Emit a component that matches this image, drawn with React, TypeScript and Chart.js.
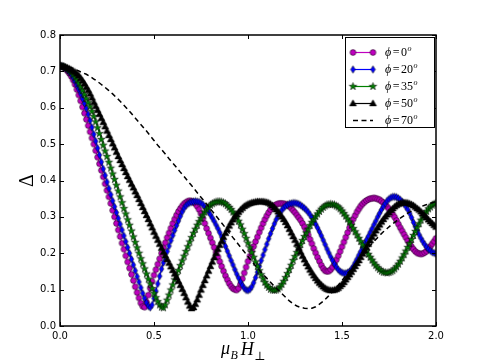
import React, { useEffect, useRef } from "react";
import { Chart, registerables } from "chart.js";

Chart.register(...registerables);

// ---- data ----
// sample positions of the marker curves (step 0.01)
const X_DENSE = [
  0.0, 0.01, 0.02, 0.03, 0.04, 0.05, 0.06, 0.07, 0.08, 0.09,
  0.1, 0.11, 0.12, 0.13, 0.14, 0.15, 0.16, 0.17, 0.18, 0.19,
  0.2, 0.21, 0.22, 0.23, 0.24, 0.25, 0.26, 0.27, 0.28, 0.29,
  0.3, 0.31, 0.32, 0.33, 0.34, 0.35, 0.36, 0.37, 0.38, 0.39,
  0.4, 0.41, 0.42, 0.43, 0.44, 0.45, 0.46, 0.47, 0.48, 0.49,
  0.5, 0.51, 0.52, 0.53, 0.54, 0.55, 0.56, 0.57, 0.58, 0.59,
  0.6, 0.61, 0.62, 0.63, 0.64, 0.65, 0.66, 0.67, 0.68, 0.69,
  0.7, 0.71, 0.72, 0.73, 0.74, 0.75, 0.76, 0.77, 0.78, 0.79,
  0.8, 0.81, 0.82, 0.83, 0.84, 0.85, 0.86, 0.87, 0.88, 0.89,
  0.9, 0.91, 0.92, 0.93, 0.94, 0.95, 0.96, 0.97, 0.98, 0.99,
  1.0, 1.01, 1.02, 1.03, 1.04, 1.05, 1.06, 1.07, 1.08, 1.09,
  1.1, 1.11, 1.12, 1.13, 1.14, 1.15, 1.16, 1.17, 1.18, 1.19,
  1.2, 1.21, 1.22, 1.23, 1.24, 1.25, 1.26, 1.27, 1.28, 1.29,
  1.3, 1.31, 1.32, 1.33, 1.34, 1.35, 1.36, 1.37, 1.38, 1.39,
  1.4, 1.41, 1.42, 1.43, 1.44, 1.45, 1.46, 1.47, 1.48, 1.49,
  1.5, 1.51, 1.52, 1.53, 1.54, 1.55, 1.56, 1.57, 1.58, 1.59,
  1.6, 1.61, 1.62, 1.63, 1.64, 1.65, 1.66, 1.67, 1.68, 1.69,
  1.7, 1.71, 1.72, 1.73, 1.74, 1.75, 1.76, 1.77, 1.78, 1.79,
  1.8, 1.81, 1.82, 1.83, 1.84, 1.85, 1.86, 1.87, 1.88, 1.89,
  1.9, 1.91, 1.92, 1.93, 1.94, 1.95, 1.96, 1.97, 1.98, 1.99,
  2.0,
];

// sample positions of the dashed curve (step 0.02)
const X_COARSE = [
  0.0, 0.02, 0.04, 0.06, 0.08, 0.1, 0.12, 0.14, 0.16, 0.18,
  0.2, 0.22, 0.24, 0.26, 0.28, 0.3, 0.32, 0.34, 0.36, 0.38,
  0.4, 0.42, 0.44, 0.46, 0.48, 0.5, 0.52, 0.54, 0.56, 0.58,
  0.6, 0.62, 0.64, 0.66, 0.68, 0.7, 0.72, 0.74, 0.76, 0.78,
  0.8, 0.82, 0.84, 0.86, 0.88, 0.9, 0.92, 0.94, 0.96, 0.98,
  1.0, 1.02, 1.04, 1.06, 1.08, 1.1, 1.12, 1.14, 1.16, 1.18,
  1.2, 1.22, 1.24, 1.26, 1.28, 1.3, 1.32, 1.34, 1.36, 1.38,
  1.4, 1.42, 1.44, 1.46, 1.48, 1.5, 1.52, 1.54, 1.56, 1.58,
  1.6, 1.62, 1.64, 1.66, 1.68, 1.7, 1.72, 1.74, 1.76, 1.78,
  1.8, 1.82, 1.84, 1.86, 1.88, 1.9, 1.92, 1.94, 1.96, 1.98,
  2.0,
];

const PHI_0 = [
  0.715, 0.714, 0.711, 0.707, 0.701, 0.694, 0.686, 0.676, 0.664, 0.65,
  0.635, 0.619, 0.602, 0.585, 0.568, 0.551, 0.534, 0.517, 0.5, 0.482,
  0.464, 0.446, 0.428, 0.41, 0.391, 0.373, 0.355, 0.337, 0.318, 0.3,
  0.282, 0.264, 0.246, 0.228, 0.211, 0.193, 0.176, 0.159, 0.142, 0.125,
  0.108, 0.092, 0.077, 0.063, 0.054, 0.052, 0.066, 0.085, 0.104, 0.122,
  0.14, 0.155, 0.17, 0.185, 0.2, 0.215, 0.229, 0.243, 0.256, 0.269,
  0.282, 0.294, 0.305, 0.315, 0.323, 0.33, 0.336, 0.34, 0.343, 0.344,
  0.343, 0.34, 0.336, 0.329, 0.32, 0.309, 0.296, 0.282, 0.268, 0.255,
  0.242, 0.229, 0.216, 0.203, 0.19, 0.177, 0.164, 0.151, 0.138, 0.127,
  0.117, 0.109, 0.103, 0.1, 0.099, 0.104, 0.115, 0.13, 0.146, 0.162,
  0.178, 0.192, 0.206, 0.219, 0.232, 0.245, 0.258, 0.27, 0.282, 0.293,
  0.303, 0.312, 0.32, 0.326, 0.331, 0.334, 0.336, 0.337, 0.337, 0.336,
  0.335, 0.332, 0.329, 0.324, 0.318, 0.312, 0.305, 0.298, 0.291, 0.282,
  0.272, 0.261, 0.25, 0.238, 0.226, 0.213, 0.201, 0.189, 0.178, 0.167,
  0.158, 0.152, 0.15, 0.151, 0.155, 0.162, 0.171, 0.182, 0.193, 0.205,
  0.218, 0.231, 0.244, 0.257, 0.27, 0.282, 0.294, 0.304, 0.314, 0.322,
  0.33, 0.336, 0.341, 0.345, 0.348, 0.35, 0.351, 0.352, 0.351, 0.349,
  0.347, 0.343, 0.339, 0.334, 0.328, 0.322, 0.315, 0.307, 0.299, 0.29,
  0.28, 0.27, 0.261, 0.252, 0.243, 0.234, 0.226, 0.218, 0.211, 0.205,
  0.201, 0.199, 0.198, 0.199, 0.202, 0.206, 0.212, 0.219, 0.226, 0.233,
  0.241,
];

const PHI_20 = [
  0.715, 0.714, 0.712, 0.709, 0.704, 0.698, 0.691, 0.682, 0.672, 0.661,
  0.65, 0.638, 0.625, 0.612, 0.598, 0.582, 0.565, 0.546, 0.527, 0.508,
  0.489, 0.47, 0.451, 0.432, 0.414, 0.396, 0.378, 0.361, 0.344, 0.328,
  0.312, 0.296, 0.28, 0.264, 0.248, 0.232, 0.216, 0.2, 0.184, 0.168,
  0.152, 0.136, 0.121, 0.105, 0.09, 0.076, 0.064, 0.055, 0.051, 0.058,
  0.076, 0.096, 0.116, 0.137, 0.157, 0.174, 0.19, 0.205, 0.22, 0.235,
  0.249, 0.263, 0.276, 0.289, 0.302, 0.314, 0.324, 0.331, 0.336, 0.339,
  0.341, 0.342, 0.343, 0.342, 0.341, 0.338, 0.334, 0.328, 0.322, 0.314,
  0.306, 0.297, 0.288, 0.278, 0.268, 0.257, 0.245, 0.232, 0.219, 0.206,
  0.193, 0.18, 0.168, 0.155, 0.143, 0.132, 0.121, 0.112, 0.104, 0.099,
  0.098, 0.101, 0.108, 0.119, 0.133, 0.148, 0.164, 0.18, 0.195, 0.21,
  0.225, 0.24, 0.254, 0.268, 0.281, 0.293, 0.303, 0.312, 0.319, 0.325,
  0.33, 0.333, 0.336, 0.337, 0.338, 0.338, 0.337, 0.335, 0.332, 0.328,
  0.324, 0.319, 0.313, 0.306, 0.298, 0.289, 0.28, 0.27, 0.259, 0.248,
  0.236, 0.224, 0.212, 0.201, 0.19, 0.18, 0.17, 0.162, 0.155, 0.15,
  0.147, 0.145, 0.145, 0.147, 0.15, 0.156, 0.164, 0.174, 0.184, 0.195,
  0.205, 0.216, 0.226, 0.237, 0.247, 0.258, 0.268, 0.279, 0.289, 0.3,
  0.31, 0.32, 0.329, 0.337, 0.344, 0.349, 0.353, 0.355, 0.355, 0.354,
  0.351, 0.347, 0.342, 0.336, 0.328, 0.32, 0.31, 0.298, 0.285, 0.273,
  0.262, 0.251, 0.241, 0.232, 0.224, 0.217, 0.211, 0.207, 0.203, 0.201,
  0.199,
];

const PHI_35 = [
  0.715, 0.714, 0.713, 0.71, 0.707, 0.702, 0.697, 0.691, 0.684, 0.676,
  0.667, 0.657, 0.647, 0.636, 0.625, 0.614, 0.603, 0.59, 0.576, 0.561,
  0.545, 0.529, 0.513, 0.497, 0.481, 0.466, 0.45, 0.434, 0.418, 0.403,
  0.387, 0.371, 0.355, 0.339, 0.323, 0.308, 0.292, 0.277, 0.261, 0.245,
  0.23, 0.215, 0.2, 0.185, 0.171, 0.157, 0.143, 0.129, 0.116, 0.103,
  0.09, 0.078, 0.067, 0.058, 0.052, 0.05, 0.058, 0.071, 0.085, 0.099,
  0.113, 0.127, 0.14, 0.153, 0.166, 0.179, 0.192, 0.205, 0.218, 0.231,
  0.243, 0.255, 0.266, 0.277, 0.287, 0.296, 0.305, 0.313, 0.32, 0.326,
  0.332, 0.336, 0.339, 0.341, 0.342, 0.342, 0.341, 0.339, 0.336, 0.331,
  0.326, 0.32, 0.313, 0.306, 0.298, 0.288, 0.278, 0.266, 0.254, 0.241,
  0.228, 0.215, 0.202, 0.189, 0.176, 0.164, 0.152, 0.141, 0.13, 0.12,
  0.112, 0.106, 0.101, 0.099, 0.098, 0.099, 0.102, 0.107, 0.114, 0.123,
  0.133, 0.144, 0.155, 0.167, 0.18, 0.191, 0.202, 0.213, 0.224, 0.235,
  0.246, 0.256, 0.266, 0.276, 0.285, 0.293, 0.301, 0.308, 0.315, 0.321,
  0.326, 0.33, 0.333, 0.334, 0.335, 0.334, 0.333, 0.33, 0.327, 0.322,
  0.316, 0.309, 0.302, 0.294, 0.286, 0.277, 0.268, 0.259, 0.25, 0.241,
  0.232, 0.223, 0.214, 0.205, 0.197, 0.189, 0.181, 0.173, 0.166, 0.16,
  0.155, 0.151, 0.148, 0.147, 0.146, 0.147, 0.149, 0.152, 0.157, 0.163,
  0.17, 0.178, 0.187, 0.196, 0.206, 0.216, 0.227, 0.238, 0.249, 0.26,
  0.271, 0.281, 0.291, 0.3, 0.308, 0.315, 0.322, 0.327, 0.332, 0.335,
  0.338,
];

const PHI_50 = [
  0.715, 0.714, 0.713, 0.711, 0.709, 0.707, 0.704, 0.701, 0.698, 0.693,
  0.688, 0.681, 0.674, 0.666, 0.657, 0.648, 0.638, 0.627, 0.615, 0.604,
  0.593, 0.582, 0.571, 0.56, 0.548, 0.536, 0.524, 0.513, 0.501, 0.49,
  0.478, 0.466, 0.455, 0.444, 0.433, 0.422, 0.411, 0.401, 0.39, 0.38,
  0.369, 0.359, 0.348, 0.337, 0.326, 0.315, 0.304, 0.293, 0.281, 0.27,
  0.258, 0.247, 0.236, 0.225, 0.214, 0.203, 0.193, 0.183, 0.173, 0.163,
  0.153, 0.143, 0.133, 0.123, 0.112, 0.101, 0.09, 0.078, 0.066, 0.055,
  0.048, 0.051, 0.06, 0.072, 0.085, 0.099, 0.112, 0.125, 0.138, 0.151,
  0.164, 0.176, 0.188, 0.2, 0.211, 0.222, 0.233, 0.244, 0.255, 0.265,
  0.275, 0.284, 0.292, 0.3, 0.307, 0.313, 0.319, 0.324, 0.329, 0.332,
  0.335, 0.337, 0.339, 0.34, 0.341, 0.342, 0.342, 0.342, 0.342, 0.341,
  0.34, 0.338, 0.335, 0.331, 0.326, 0.32, 0.314, 0.307, 0.3, 0.293,
  0.285, 0.276, 0.266, 0.256, 0.246, 0.236, 0.225, 0.214, 0.203, 0.192,
  0.182, 0.172, 0.163, 0.154, 0.146, 0.138, 0.131, 0.124, 0.118, 0.113,
  0.108, 0.104, 0.101, 0.099, 0.098, 0.098, 0.099, 0.101, 0.104, 0.109,
  0.114, 0.12, 0.127, 0.134, 0.141, 0.148, 0.156, 0.164, 0.172, 0.18,
  0.189, 0.198, 0.207, 0.216, 0.225, 0.235, 0.244, 0.253, 0.262, 0.27,
  0.278, 0.286, 0.293, 0.3, 0.306, 0.312, 0.318, 0.323, 0.328, 0.332,
  0.335, 0.337, 0.339, 0.339, 0.339, 0.338, 0.336, 0.334, 0.331, 0.327,
  0.323, 0.319, 0.314, 0.309, 0.303, 0.298, 0.292, 0.287, 0.282, 0.277,
  0.272,
];

const PHI_70 = [
  0.715, 0.715, 0.713, 0.71, 0.706, 0.701, 0.696, 0.692, 0.686, 0.679,
  0.672, 0.664, 0.656, 0.647, 0.638, 0.628, 0.618, 0.607, 0.596, 0.584,
  0.572, 0.56, 0.548, 0.536, 0.523, 0.51, 0.497, 0.485, 0.473, 0.46,
  0.448, 0.436, 0.423, 0.411, 0.398, 0.386, 0.373, 0.36, 0.348, 0.335,
  0.322, 0.309, 0.296, 0.283, 0.27, 0.256, 0.243, 0.23, 0.217, 0.204,
  0.191, 0.178, 0.166, 0.154, 0.142, 0.131, 0.12, 0.109, 0.099, 0.089,
  0.079, 0.069, 0.061, 0.055, 0.051, 0.049, 0.048, 0.049, 0.053, 0.06,
  0.068, 0.078, 0.089, 0.1, 0.112, 0.125, 0.138, 0.151, 0.164, 0.177,
  0.19, 0.203, 0.215, 0.227, 0.238, 0.249, 0.259, 0.268, 0.277, 0.285,
  0.293, 0.3, 0.307, 0.313, 0.318, 0.323, 0.328, 0.332, 0.336, 0.339,
  0.342,
];

const PHI_LABELS = ["0", "20", "35", "50", "70"];
const X_TICKS = [0.0, 0.5, 1.0, 1.5, 2.0];
const Y_TICKS = [0.0, 0.1, 0.2, 0.3, 0.4, 0.5, 0.6, 0.7, 0.8];

// ---- styles ----
const COLORS = ["#bf00bf", "#0000ff", "#008000", "#000000", "#000000"];
const MARKERS = ["circle", "thinDiamond", "star", "triangle", "none"];

function makeMarker(kind: string, color: string): HTMLCanvasElement {
  const c = document.createElement("canvas");
  c.width = 11;
  c.height = 11;
  const ctx = c.getContext("2d")!;
  ctx.translate(5.5, 5.5);
  ctx.fillStyle = color;
  ctx.strokeStyle = "#000";
  ctx.lineWidth = 0.5;
  ctx.beginPath();
  if (kind === "circle") {
    ctx.arc(0, 0, 2.9, 0, Math.PI * 2);
  } else if (kind === "thinDiamond") {
    ctx.moveTo(0, -3.8);
    ctx.lineTo(2.3, 0);
    ctx.lineTo(0, 3.8);
    ctx.lineTo(-2.3, 0);
    ctx.closePath();
  } else if (kind === "star") {
    for (let k = 0; k < 10; k++) {
      const r = k % 2 === 0 ? 4.0 : 1.6;
      const a = -Math.PI / 2 + (k * Math.PI) / 5;
      const px = r * Math.cos(a);
      const py = r * Math.sin(a);
      if (k === 0) ctx.moveTo(px, py);
      else ctx.lineTo(px, py);
    }
    ctx.closePath();
  } else if (kind === "triangle") {
    ctx.moveTo(0, -3.7);
    ctx.lineTo(3.5, 2.4);
    ctx.lineTo(-3.5, 2.4);
    ctx.closePath();
  }
  ctx.fill();
  ctx.stroke();
  return c;
}

function drawLegendText(ctx: CanvasRenderingContext2D, x: number, y: number, deg: string) {
  const serif = '"Liberation Serif", "DejaVu Serif", serif';
  ctx.fillStyle = "#000";
  ctx.textBaseline = "middle";
  ctx.textAlign = "left";
  let cx = x;
  ctx.font = `italic 12px ${serif}`;
  ctx.fillText("\u03D5", cx, y);
  cx += ctx.measureText("\u03D5").width + 1.5;
  ctx.font = `12px ${serif}`;
  ctx.fillText("=", cx, y);
  cx += ctx.measureText("=").width + 1.5;
  ctx.fillText(deg, cx, y);
  cx += ctx.measureText(deg).width + 0.5;
  ctx.font = `italic 8px ${serif}`;
  ctx.fillText("o", cx, y - 4);
}

export default function App() {
  const ref = useRef<HTMLCanvasElement>(null);

  useEffect(() => {
    document.body.style.margin = "0";
    const series = [PHI_0, PHI_20, PHI_35, PHI_50, PHI_70];
    const markerImgs = MARKERS.map((m, i) => (m === "none" ? null : makeMarker(m, COLORS[i])));

    const datasets = series.map((arr, i) => {
      const isDashed = i === 4;
      const xs = isDashed ? X_COARSE : X_DENSE;
      return {
        label: "phi=" + PHI_LABELS[i],
        data: xs.map((x, j) => ({ x, y: arr[j] })),
        borderColor: COLORS[i],
        backgroundColor: COLORS[i],
        borderWidth: isDashed ? 1.5 : 1,
        borderDash: isDashed ? [5, 3.5] : [],
        pointStyle: isDashed ? "circle" : (markerImgs[i] as any),
        pointRadius: isDashed ? 0 : 3,
        pointHoverRadius: isDashed ? 0 : 3,
        tension: 0,
        fill: false,
        clip: 0,
        order: 4 - i,
      };
    });

    const decor = {
      id: "decor",
      afterDraw(chart: any) {
        const { ctx, chartArea: a, scales } = chart;
        const xs = scales.x;
        const ys = scales.y;
        ctx.save();
        // inward ticks
        ctx.strokeStyle = "#000";
        ctx.lineWidth = 1;
        ctx.beginPath();
        X_TICKS.forEach((v) => {
          const px = Math.round(xs.getPixelForValue(v)) + 0.5;
          ctx.moveTo(px, a.bottom);
          ctx.lineTo(px, a.bottom - 4);
          ctx.moveTo(px, a.top);
          ctx.lineTo(px, a.top + 4);
        });
        Y_TICKS.forEach((v) => {
          const py = Math.round(ys.getPixelForValue(v)) + 0.5;
          ctx.moveTo(a.left, py);
          ctx.lineTo(a.left + 4, py);
          ctx.moveTo(a.right, py);
          ctx.lineTo(a.right - 4, py);
        });
        ctx.stroke();
        // frame
        ctx.lineWidth = 1.5;
        ctx.strokeRect(a.left, a.top, a.right - a.left, a.bottom - a.top);

        // legend
        const bw = 89;
        const bh = 90;
        const bx = a.right - 2 - bw;
        const by = a.top + 2;
        ctx.fillStyle = "#fff";
        ctx.fillRect(bx + 0.5, by + 0.5, bw, bh);
        ctx.lineWidth = 1;
        ctx.strokeStyle = "#000";
        ctx.strokeRect(bx + 0.5, by + 0.5, bw, bh);
        PHI_LABELS.forEach((lab, i) => {
          const ey = by + 15.5 + i * 17;
          const x0 = bx + 8;
          const x1 = bx + 28;
          ctx.save();
          ctx.strokeStyle = COLORS[i];
          ctx.lineWidth = i === 4 ? 1.5 : 1.2;
          ctx.setLineDash(i === 4 ? [5, 3.5] : []);
          ctx.beginPath();
          ctx.moveTo(x0, ey);
          ctx.lineTo(x1, ey);
          ctx.stroke();
          ctx.restore();
          const img = markerImgs[i];
          if (img) {
            ctx.drawImage(img, x0 - 5.5, ey - 5.5);
            ctx.drawImage(img, x1 - 5.5, ey - 5.5);
          }
          drawLegendText(ctx, bx + 40, ey, lab);
        });

        // y title (Delta)
        const serif = '"Liberation Serif", "DejaVu Serif", serif';
        ctx.save();
        ctx.translate(28, (a.top + a.bottom) / 2);
        ctx.rotate(-Math.PI / 2);
        ctx.fillStyle = "#000";
        ctx.font = `20px ${serif}`;
        ctx.textAlign = "center";
        ctx.textBaseline = "middle";
        ctx.fillText("\u0394", 0, 0);
        ctx.restore();

        // x title: mu_B H_perp
        const cxm = (a.left + a.right) / 2;
        ctx.fillStyle = "#000";
        ctx.textAlign = "left";
        ctx.textBaseline = "alphabetic";
        let tx = cxm - 27;
        ctx.font = `italic 18px ${serif}`;
        ctx.fillText("\u03BC", tx, 354);
        tx += ctx.measureText("\u03BC").width + 0.5;
        ctx.font = `italic 12px ${serif}`;
        ctx.fillText("B", tx, 359);
        tx += ctx.measureText("B").width + 3;
        ctx.font = `italic 18px ${serif}`;
        ctx.fillText("H", tx, 355);
        tx += ctx.measureText("H").width + 0.5;
        ctx.font = `12px ${serif}`;
        ctx.fillText("\u22A5", tx, 360);
        ctx.restore();
      },
    };

    const chart = new Chart(ref.current!, {
      type: "line",
      data: { datasets: datasets as any },
      options: {
        responsive: false,
        animation: false,
        events: [],
        layout: { padding: { top: 35, right: 49, left: 0, bottom: 0 } },
        plugins: { legend: { display: false }, tooltip: { enabled: false } },
        scales: {
          x: {
            type: "linear",
            min: 0,
            max: 2,
            afterBuildTicks: (s: any) => {
              s.ticks = X_TICKS.map((v) => ({ value: v }));
            },
            afterFit: (s: any) => {
              s.height = 37;
            },
            grid: { display: false, drawTicks: false },
            border: { display: false },
            ticks: {
              padding: 4,
              color: "#000",
              font: { family: '"DejaVu Sans", sans-serif', size: 10 },
              callback: (v: any) => Number(v).toFixed(1),
              maxRotation: 0,
            },
          },
          y: {
            type: "linear",
            min: 0,
            max: 0.8,
            afterBuildTicks: (s: any) => {
              s.ticks = Y_TICKS.map((v) => ({ value: v }));
            },
            afterFit: (s: any) => {
              s.width = 60;
            },
            grid: { display: false, drawTicks: false },
            border: { display: false },
            ticks: {
              padding: 4,
              color: "#000",
              font: { family: '"DejaVu Sans", sans-serif', size: 10 },
              callback: (v: any) => Number(v).toFixed(1),
            },
          },
        },
      },
      plugins: [decor],
    } as any);

    return () => chart.destroy();
  }, []);

  return (
    <div style={{ position: "absolute", left: 0, top: 0, width: 485, height: 363 }}>
      <canvas ref={ref} width={485} height={363} style={{ display: "block" }} />
    </div>
  );
}
